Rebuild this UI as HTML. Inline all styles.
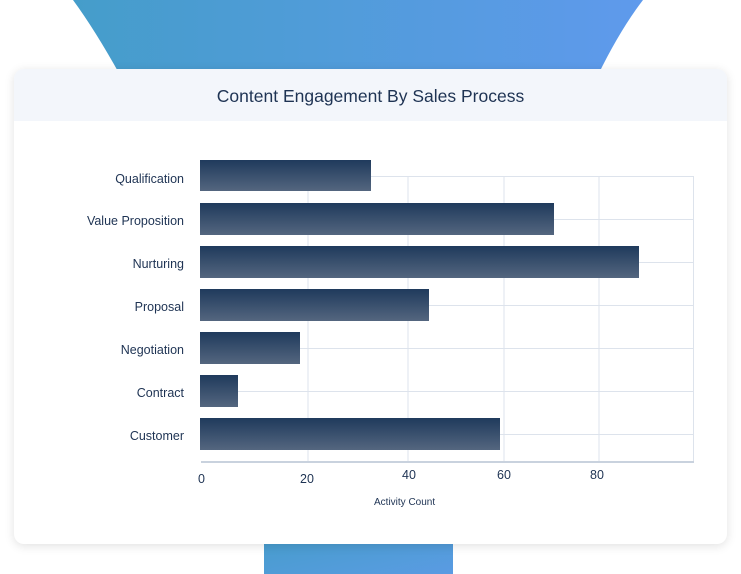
<!DOCTYPE html>
<html><head><style>
body{margin:0;width:741px;height:574px;background:#fff;position:relative;overflow:hidden;font-family:"Liberation Sans",sans-serif;}
.card{position:absolute;left:14px;top:69px;width:713px;height:475px;background:#fff;border-radius:10px;box-shadow:0 2px 10px rgba(0,0,0,0.12);overflow:hidden;}
.hdr{height:52px;background:#f3f6fb;text-align:center;line-height:54px;font-size:17.5px;color:#1e3353;}
.lbl{position:absolute;font-size:12.5px;color:#1e3353;text-align:right;width:184px;left:0;}
.tick{position:absolute;font-size:12.5px;color:#1e3353;}
</style></head><body>
<svg width="741" height="574" style="position:absolute;left:0;top:0">
<defs>
<linearGradient id="fg" x1="0" x2="1" y1="0" y2="0"><stop offset="0" stop-color="#459dca"/><stop offset="1" stop-color="#5f9aec"/></linearGradient>
<linearGradient id="fg2" x1="0" x2="1" y1="0" y2="1"><stop offset="0" stop-color="#459dca"/><stop offset="1" stop-color="#5a9be3"/></linearGradient>
</defs>
<path d="M73 0 L643 0 Q620 30 598 75 L120 75 Q95 30 73 0Z" fill="url(#fg)"/>
<rect x="264" y="530" width="189" height="44" fill="url(#fg2)"/>
</svg>
<div class="card"><div class="hdr">Content Engagement By Sales Process</div></div>
<svg width="741" height="574" style="position:absolute;left:0;top:0">
<defs><linearGradient id="bg" x1="0" x2="0" y1="0" y2="1"><stop offset="0" stop-color="#1f3a5c"/><stop offset="1" stop-color="#54667f"/></linearGradient></defs>
<g stroke="#dde3ec" stroke-width="1" fill="none">
<line x1="308" y1="176" x2="308" y2="462"/><line x1="408" y1="176" x2="408" y2="462"/><line x1="504" y1="176" x2="504" y2="462"/><line x1="599" y1="176" x2="599" y2="462"/><line x1="693.5" y1="176" x2="693.5" y2="462"/>
<line x1="200" y1="176.5" x2="694" y2="176.5"/><line x1="200" y1="219.5" x2="694" y2="219.5"/><line x1="200" y1="262.5" x2="694" y2="262.5"/><line x1="200" y1="305.5" x2="694" y2="305.5"/><line x1="200" y1="348.5" x2="694" y2="348.5"/><line x1="200" y1="391.5" x2="694" y2="391.5"/><line x1="200" y1="434.5" x2="694" y2="434.5"/>
</g>
<line x1="201" y1="462" x2="694" y2="462" stroke="#c9d2de" stroke-width="2"/>
<g fill="url(#bg)">
<rect x="200" y="160" width="171" height="31"/>
<rect x="200" y="203" width="354" height="32"/>
<rect x="200" y="246" width="439" height="32"/>
<rect x="200" y="289" width="229" height="32"/>
<rect x="200" y="332" width="100" height="32"/>
<rect x="200" y="375" width="38" height="32"/>
<rect x="200" y="418" width="300" height="32"/>
</g>
</svg>
<div class="lbl" style="top:172px">Qualification</div>
<div class="lbl" style="top:214px">Value Proposition</div>
<div class="lbl" style="top:257px">Nurturing</div>
<div class="lbl" style="top:300px">Proposal</div>
<div class="lbl" style="top:343px">Negotiation</div>
<div class="lbl" style="top:386px">Contract</div>
<div class="lbl" style="top:429px">Customer</div>
<div class="tick" style="left:198px;top:472px">0</div>
<div class="tick" style="left:300px;top:472px">20</div>
<div class="tick" style="left:402px;top:468px">40</div>
<div class="tick" style="left:497px;top:468px">60</div>
<div class="tick" style="left:590px;top:468px">80</div>
<div class="tick" style="left:374px;top:497px;font-size:10px">Activity Count</div>
</body></html>
